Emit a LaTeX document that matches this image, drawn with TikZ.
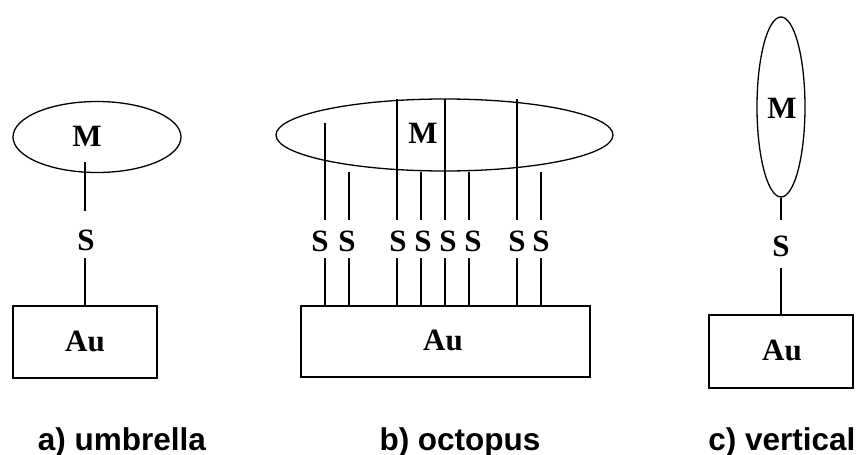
\documentclass[tikz,border=0pt]{standalone}
\usepackage{fontspec}
\setmainfont{Liberation Serif}
\setsansfont{Liberation Sans}
\usetikzlibrary{shapes.geometric}
\begin{document}
\begin{tikzpicture}[x=1pt,y=-1pt,
  lw/.style={line width=1.3pt},
  mol/.style={ellipse,draw,lw,inner sep=0pt},
  goldbox/.style={rectangle,draw,lw,inner sep=0pt},
  lbl/.style={font=\fontsize{31}{31}\selectfont\bfseries,inner sep=0pt},
  captext/.style={font=\sffamily\fontsize{31.5}{31.5}\selectfont\bfseries,inner sep=0pt,anchor=base}]
\useasboundingbox (0,0) rectangle (860,455);

% a) umbrella
\node[mol,minimum width=168pt,minimum height=71pt] (uM) at (97,137) {};
\node[lbl] (uMt) at (87,136) {M};
\node[lbl] (uS) at (86,240) {S};
\node[goldbox,minimum width=144pt,minimum height=72pt] (uA) at (85,342) {};
\node[lbl] (uAt) at (85,341) {Au};
\coordinate (u1) at (85,162);
\coordinate (u2) at (85,211);
\coordinate (u3) at (85,258);
\draw[lw] (u1) -- (u2);
\draw[lw] (u3) -- (uA.north -| u3);
\node[captext] (ucap) at (122,450) {a) umbrella};

% b) octopus
\node[mol,minimum width=337pt,minimum height=72pt] (oM) at (444.5,135) {};
\node[lbl] (oMt) at (423,133) {M};
\node[goldbox,minimum width=289pt,minimum height=71pt] (oA) at (445.5,341.5) {};
\node[lbl] (oAt) at (443,340) {Au};
\foreach \i/\x/\t/\s in {1/325/123/320, 2/349/172/347, 3/397/99/398, 4/421/172/423, 5/445/99/448, 6/469/172/473, 7/517/99/517, 8/541/172/541}{
  \node[lbl] (oS\i) at (\s,241) {S};
  \coordinate (ot\i) at (\x,\t);
  \coordinate (om\i) at (\x,220);
  \coordinate (ob\i) at (\x,258);
  \draw[lw] (ot\i) -- (om\i);
  \draw[lw] (ob\i) -- (oA.north -| ob\i);
}
\node[captext] (ocap) at (460,450) {b) octopus};

% c) vertical
\node[mol,minimum width=48pt,minimum height=180pt] (vM) at (781,107) {};
\node[lbl] (vMt) at (782,108) {M};
\node[lbl] (vS) at (781,246) {S};
\node[goldbox,minimum width=144pt,minimum height=73pt] (vA) at (781,351.5) {};
\node[lbl] (vAt) at (782,350) {Au};
\coordinate (v2) at (781,220);
\coordinate (v3) at (781,268);
\draw[lw] (vM.south) -- (v2);
\draw[lw] (v3) -- (vA.north);
\node[captext] (vcap) at (782,450) {c) vertical};
\end{tikzpicture}
\end{document}
